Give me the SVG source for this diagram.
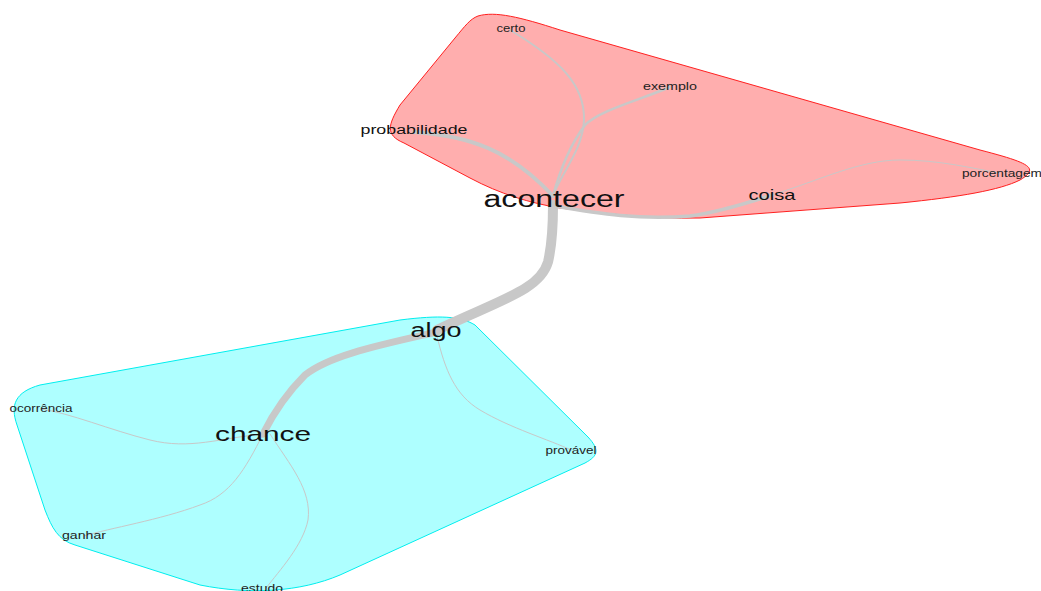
<svg xmlns="http://www.w3.org/2000/svg" width="1041" height="591" viewBox="0 0 1041 591">
<style>
.hull{stroke-width:1}
.e{fill:none;stroke:#c8c8c8;stroke-linecap:round}
text{font-family:"Liberation Sans",Arial,sans-serif;text-anchor:middle;fill:#111}
.s{font-size:10.5px;fill:#222}
</style>
<rect width="1041" height="591" fill="#fff"/>
<g id="hulls">
<path id="hull-red" class="hull" fill="#ffaeae" stroke="#ff2020" d="M478,16 C495,11 520,17 560,30 L980,150 C1030,163 1040,168 1020,180 C1000,190 960,197 900,203 L700,218 C650,219 610,214 560,208 C530,203 500,194 470,178 L404,143 C385,135 388,125 400,105 L455,38 C465,26 470,19 478,16 Z"/>
<path id="hull-blue" class="hull" fill="#aeffff" stroke="#00eeee" d="M40,385 L400,320 C440,315 460,316 475,325 L588,437 C600,450 598,456 585,463 L340,575 C300,592 250,595 200,585 L75,545 C58,540 52,528 45,510 L17,425 C10,405 15,392 40,385 Z"/>
</g>
<g id="connectors">
<path class="e" stroke-width="10" d="M553,205 C553,225 552,245 548,262 C540,290 500,300 437,330"/>
<path class="e" stroke-width="7" d="M437,332 C380,345 330,355 305,375 C290,390 275,410 263,434"/>
<path class="e" stroke-width="4" d="M414,132 C470,136 510,150 553,196"/>
<path class="e" stroke-width="2" d="M510,30 C560,60 585,85 584,120 C583,150 560,175 553,196"/>
<path class="e" stroke-width="2.5" d="M670,87 C640,100 600,110 585,125 C570,145 560,170 553,196"/>
<path class="e" stroke-width="3.5" d="M555,206 C600,214 640,220 690,216 C720,212 750,202 772,195"/>
<path class="e" stroke-width="1" d="M772,195 C820,180 860,160 900,160 C940,160 970,168 1000,173"/>
<path class="e" stroke-width="1" d="M437,336 C445,370 455,395 480,410 C510,428 550,440 571,450"/>
<path class="e" stroke-width="1" d="M263,434 C220,438 190,450 150,440 C110,430 70,413 41,409"/>
<path class="e" stroke-width="1" d="M263,434 C245,470 230,495 200,505 C160,520 110,528 84,536"/>
<path class="e" stroke-width="1" d="M270,434 C290,465 312,490 308,520 C303,545 280,570 266,588"/>
</g>
<g id="node-certo"><text class="s" x="511" y="32" textLength="29" lengthAdjust="spacingAndGlyphs">certo</text></g>
<g id="node-exemplo"><text class="s" x="670" y="90" textLength="54" lengthAdjust="spacingAndGlyphs">exemplo</text></g>
<g id="node-probabilidade"><text style="font-size:12.5px" x="414" y="134" textLength="107" lengthAdjust="spacingAndGlyphs">probabilidade</text></g>
<g id="node-acontecer"><text style="font-size:23px" x="554" y="207" textLength="141" lengthAdjust="spacingAndGlyphs">acontecer</text></g>
<g id="node-coisa"><text style="font-size:15px" x="772" y="200" textLength="47" lengthAdjust="spacingAndGlyphs">coisa</text></g>
<g id="node-porcentagem"><text class="s" x="1002" y="177" textLength="80" lengthAdjust="spacingAndGlyphs">porcentagem</text></g>
<g id="node-algo"><text style="font-size:20px" x="436" y="337" textLength="51" lengthAdjust="spacingAndGlyphs">algo</text></g>
<g id="node-chance"><text style="font-size:21px" x="263" y="441" textLength="96" lengthAdjust="spacingAndGlyphs">chance</text></g>
<g id="node-ocorrencia"><text class="s" x="41" y="412" textLength="63" lengthAdjust="spacingAndGlyphs">ocorrência</text></g>
<g id="node-provavel"><text class="s" x="571" y="454" textLength="51" lengthAdjust="spacingAndGlyphs">provável</text></g>
<g id="node-ganhar"><text class="s" x="84" y="539" textLength="44" lengthAdjust="spacingAndGlyphs">ganhar</text></g>
<g id="node-estudo"><text class="s" x="262" y="592" textLength="42" lengthAdjust="spacingAndGlyphs">estudo</text></g>
</svg>
